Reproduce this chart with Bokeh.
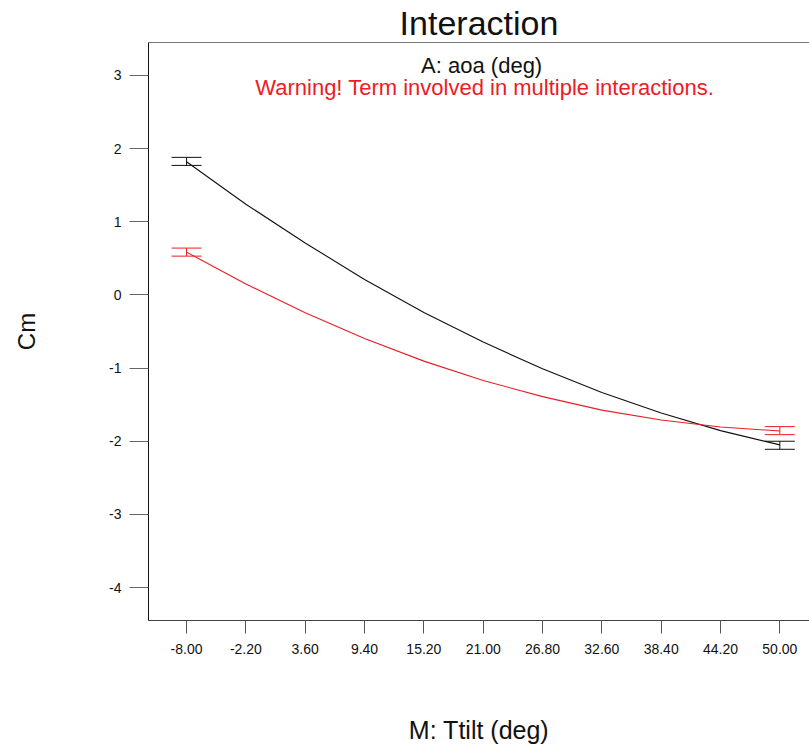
from bokeh.plotting import figure
from bokeh.models import Range1d, FixedTicker, LinearAxis, Label, Whisker, ColumnDataSource, TeeHead
from bokeh.embed import file_html
from bokeh.resources import INLINE

# ---- data ----
x_ticks = [-8.0, -2.2, 3.6, 9.4, 15.2, 21.0, 26.8, 32.6, 38.4, 44.2, 50.0]
x_tick_labels = ["-8.00", "-2.20", "3.60", "9.40", "15.20", "21.00",
                 "26.80", "32.60", "38.40", "44.20", "50.00"]
y_ticks = [-4, -3, -2, -1, 0, 1, 2, 3]
y_tick_labels = ["-4", "-3", "-2", "-1", "0", "1", "2", "3"]

ttilt = [-8.0, -2.2, 3.6, 9.4, 15.2, 21.0, 26.8, 32.6, 38.4, 44.2, 50.0]
cm_aoa_low = [1.82, 1.24, 0.71, 0.21, -0.24, -0.645, -1.01, -1.335, -1.615, -1.855, -2.05]
cm_aoa_high = [0.585, 0.15, -0.245, -0.595, -0.905, -1.17, -1.39, -1.575, -1.71, -1.805, -1.86]

bar_x = [-8.0, 50.0]
low_lower = [1.77, -2.11]
low_upper = [1.88, -2.00]
high_lower = [0.53, -1.91]
high_upper = [0.64, -1.80]

title_text = "Interaction"
factor_text = "A: aoa (deg)"
warning_text = "Warning! Term involved in multiple interactions."
x_label = "M: Ttilt (deg)"
y_label = "Cm"

FONT = "Liberation Sans"
RED = "#ec1c24"

p = figure(width=809, height=746, output_backend="svg", toolbar_location=None,
           x_range=Range1d(-11.72, 52.9), y_range=Range1d(-4.45, 3.45),
           min_border_left=148, min_border_right=0, min_border_bottom=0, min_border_top=0)
p.outline_line_color = None
p.xgrid.visible = False
p.ygrid.visible = False
p.background_fill_color = "white"
p.border_fill_color = "white"

p.title.text = title_text
p.title.align = "center"
p.title.text_font = FONT
p.title.text_font_size = "34px"
p.title.text_font_style = "normal"
p.title.text_color = "#111111"
p.title.standoff = 2

# x axis
xa = p.xaxis[0]
xa.ticker = FixedTicker(ticks=x_ticks)
xa.major_label_overrides = {t: l for t, l in zip(x_ticks, x_tick_labels)}
xa.minor_tick_line_color = None
xa.major_tick_out = 13
xa.major_tick_in = 0
xa.major_tick_line_color = "#555555"
xa.axis_line_color = "#444444"
xa.major_label_text_font = FONT
xa.major_label_text_font_size = "14px"
xa.major_label_text_color = "#111111"
xa.major_label_standoff = 10
xa.axis_label = x_label
xa.axis_label_text_font = FONT
xa.axis_label_text_font_size = "25px"
xa.axis_label_text_font_style = "normal"
xa.axis_label_text_color = "#111111"
xa.axis_label_standoff = 59

# y axis
ya = p.yaxis[0]
ya.ticker = FixedTicker(ticks=y_ticks)
ya.major_label_overrides = {t: l for t, l in zip(y_ticks, y_tick_labels)}
ya.minor_tick_line_color = None
ya.major_tick_out = 19
ya.major_tick_in = 0
ya.major_tick_line_color = "#666666"
ya.axis_line_color = "#111111"
ya.major_label_text_font = FONT
ya.major_label_text_font_size = "14px"
ya.major_label_text_color = "#111111"
ya.major_label_standoff = 8
ya.axis_label = y_label
ya.axis_label_text_font = FONT
ya.axis_label_text_font_size = "24px"
ya.axis_label_text_font_style = "normal"
ya.axis_label_text_color = "#111111"
ya.axis_label_standoff = 66

# top border line
top = LinearAxis(ticker=FixedTicker(ticks=[]), major_label_text_font_size="0px",
                 major_tick_line_color=None, minor_tick_line_color=None,
                 axis_line_color="#777777")
p.add_layout(top, "above")

# curves
p.line(ttilt, cm_aoa_low, line_color="#111111", line_width=1.1)
p.line(ttilt, cm_aoa_high, line_color=RED, line_width=1.1)

# error bars
src_low = ColumnDataSource(dict(x=bar_x, lo=low_lower, hi=low_upper))
src_high = ColumnDataSource(dict(x=bar_x, lo=high_lower, hi=high_upper))
for src, col in ((src_low, "#111111"), (src_high, RED)):
    w = Whisker(source=src, base="x", lower="lo", upper="hi", dimension="height",
                line_color=col, line_width=1,
                lower_head=TeeHead(size=30, line_color=col, line_width=1),
                upper_head=TeeHead(size=30, line_color=col, line_width=1))
    p.add_layout(w)

# annotations (placed in data space, inside the top of the frame)
p.add_layout(Label(x=20.85, y=3.14, text=factor_text, text_font=FONT,
                   text_font_size="22px", text_align="center", text_baseline="middle",
                   text_color="#111111"))
p.add_layout(Label(x=21.15, y=2.84, text=warning_text, text_font=FONT,
                   text_font_size="22px", text_align="center", text_baseline="middle",
                   text_color=RED))

open("out.html", "w").write(file_html(p, INLINE))
